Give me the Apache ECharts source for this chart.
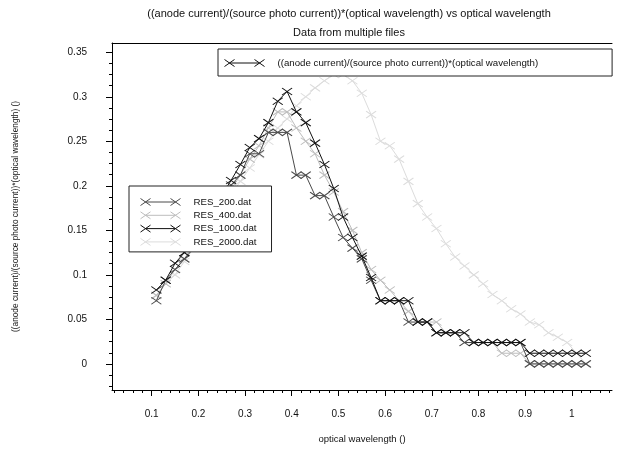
<!DOCTYPE html>
<html><head><meta charset="utf-8">
<script src="https://cdn.jsdelivr.net/npm/echarts@6/dist/echarts.min.js"></script>
<style>html,body{margin:0;padding:0;background:#fff}#c{width:626px;height:449px}</style>
</head><body><div id="c"></div>
<script>
// ---- data ----
const wavelengths = [0.11,0.13,0.15,0.17,0.19,0.21,0.23,0.25,0.27,0.29,0.31,0.33,0.35,0.37,0.39,0.41,0.43,0.45,0.47,0.49,0.51,0.53,0.55,0.57,0.59,0.61,0.63,0.65,0.67,0.69,0.71,0.73,0.75,0.77,0.79,0.81,0.83,0.85,0.87,0.89,0.91,0.93,0.95,0.97,0.99,1.01,1.03];
const res200 = [0.071,0.094,0.106,0.118,0.130,0.153,0.165,0.177,0.201,0.212,0.236,0.236,0.260,0.260,0.260,0.212,0.212,0.189,0.189,0.165,0.142,0.130,0.118,0.094,0.071,0.071,0.071,0.047,0.047,0.047,0.035,0.035,0.035,0.024,0.024,0.024,0.024,0.024,0.024,0.024,0,0,0,0,0,0,0];
const res400 = [0.077,0.090,0.106,0.118,0.135,0.148,0.160,0.177,0.196,0.212,0.230,0.245,0.265,0.283,0.283,0.265,0.250,0.236,0.212,0.193,0.171,0.150,0.125,0.106,0.094,0.083,0.071,0.059,0.047,0.047,0.047,0.035,0.035,0.024,0.024,0.024,0.024,0.012,0.012,0.012,0,0,0,0,0,0,0];
const res1000 = [0.083,0.094,0.113,0.125,0.142,0.153,0.170,0.189,0.206,0.224,0.243,0.253,0.271,0.295,0.306,0.283,0.271,0.248,0.224,0.197,0.165,0.142,0.121,0.097,0.071,0.071,0.071,0.071,0.047,0.047,0.035,0.035,0.035,0.035,0.024,0.024,0.024,0.024,0.024,0.024,0.012,0.012,0.012,0.012,0.012,0.012,0.012];
const res2000 = [0.077,0.090,0.100,0.115,0.130,0.145,0.160,0.175,0.190,0.205,0.220,0.235,0.250,0.265,0.275,0.290,0.300,0.310,0.318,0.325,0.325,0.318,0.304,0.280,0.250,0.245,0.230,0.205,0.180,0.165,0.152,0.135,0.120,0.110,0.100,0.090,0.078,0.071,0.062,0.056,0.047,0.044,0.035,0.030,0.024,0.012,0];
const seriesNames = ['RES_200.dat','RES_400.dat','RES_1000.dat','RES_2000.dat'];
const quantityName = '((anode current)/(source photo current))*(optical wavelength)';
const xMajorTicks = [0.1,0.2,0.3,0.4,0.5,0.6,0.7,0.8,0.9,1];
const xMinorTicks = [0.02,0.04,0.06,0.08,0.12,0.14,0.16,0.18,0.22,0.24,0.26,0.28,0.32,0.34,0.36,0.38,0.42,0.44,0.46,0.48,0.52,0.54,0.56,0.58,0.62,0.64,0.66,0.68,0.72,0.74,0.76,0.78,0.82,0.84,0.86,0.88,0.92,0.94,0.96,0.98,1.02,1.04,1.06,1.08];
const yMajorTicks = [0,0.05,0.1,0.15,0.2,0.25,0.3,0.35];
const yMinorTicks = [-0.025,-0.0125,0.0125,0.025,0.0375,0.0625,0.075,0.0875,0.1125,0.125,0.1375,0.1625,0.175,0.1875,0.2125,0.225,0.2375,0.2625,0.275,0.2875,0.3125,0.325,0.3375];

// ---- chart ----
const FONT = '"Liberation Sans", Arial, sans-serif';
const X_SYMBOL = 'path://M0,0L10,7M0,7L10,0';
const LEGEND_ICON = 'path://M0,0L10,7M0,7L10,0M5,3.5L35,3.5M30,0L40,7M30,7L40,0';
const XMIN = 0.015, XMAX = 1.086, YMIN = -0.0293, YMAX = 0.3604;
const colors = {'RES_200.dat':'#4a4a4a','RES_400.dat':'#bdbdbd','RES_1000.dat':'#111111','RES_2000.dat':'#dcdcdc'};

function mk(name, vals, z) {
  const c = colors[name];
  return {
    name, type:'line', xAxisIndex:0, yAxisIndex:0, z,
    data: wavelengths.map((x,i)=>[x, vals[i]]),
    symbol: X_SYMBOL, symbolSize:[10,7], showSymbol:true, showAllSymbol:true,
    lineStyle:{color:c, width:1}, itemStyle:{color:c, borderColor:c, borderWidth:1},
    emphasis:{disabled:true}, animation:false
  };
}

const chart = echarts.init(document.getElementById('c'));
const legendCommon = {
  orient:'vertical', itemWidth:40, itemHeight:7, icon:LEGEND_ICON, z:20,
  itemStyle:{borderWidth:1, borderColor:'inherit'},
  backgroundColor:'#fff', borderColor:'#222', borderWidth:1, selectedMode:false,
  textStyle:{fontSize:9.7, fontFamily:FONT, color:'#111', padding:[0,0,0,8], lineHeight:10}
};
chart.setOption({
  animation:false,
  backgroundColor:'#fff',
  title:[
    {text:quantityName + ' vs optical wavelength', left:349, top:8, textAlign:'center', padding:0,
     textStyle:{fontSize:11, fontWeight:'normal', fontFamily:FONT, color:'#111', lineHeight:12}},
    {text:'Data from multiple files', left:349, top:27, textAlign:'center', padding:0,
     textStyle:{fontSize:11, fontWeight:'normal', fontFamily:FONT, color:'#111', lineHeight:12}}
  ],
  legend:[
    Object.assign({}, legendCommon, {data:seriesNames, left:129, top:186, padding:[11,15,5,11], itemGap:3.3}),
    Object.assign({}, legendCommon, {data:[quantityName], left:218, top:49, padding:[9,74,8,6], itemGap:0})
  ],
  grid:{left:112, right:14, top:43, bottom:56, containLabel:false},
  xAxis:[
    {type:'value', position:'bottom', min:XMIN, max:XMAX,
     name:'optical wavelength ()', nameLocation:'middle', nameGap:44,
     nameTextStyle:{fontSize:9.5, fontFamily:FONT, color:'#111'},
     axisLine:{show:true, onZero:false, lineStyle:{color:'#000', width:1}},
     axisTick:{show:true, inside:false, length:6, customValues:xMajorTicks, lineStyle:{color:'#000'}},
     axisLabel:{show:true, margin:19, customValues:xMajorTicks, fontSize:10, fontFamily:FONT, color:'#111'},
     splitLine:{show:false}},
    {type:'value', position:'bottom', min:XMIN, max:XMAX,
     axisLine:{show:false, onZero:false},
     axisTick:{show:true, inside:false, length:3, customValues:xMinorTicks, lineStyle:{color:'#000'}},
     axisLabel:{show:false}, splitLine:{show:false}},
    {type:'value', position:'top', min:XMIN, max:XMAX,
     axisLine:{show:true, onZero:false, lineStyle:{color:'#000', width:1}},
     axisTick:{show:false}, axisLabel:{show:false}, splitLine:{show:false}}
  ],
  yAxis:[
    {type:'value', position:'left', min:YMIN, max:YMAX,
     name:quantityName + ' ()', nameLocation:'middle', nameGap:92, nameRotate:90,
     nameTextStyle:{fontSize:8.3, fontFamily:FONT, color:'#111'},
     axisLine:{show:true, onZero:false, lineStyle:{color:'#000', width:1}},
     axisTick:{show:true, inside:false, length:6, customValues:yMajorTicks, lineStyle:{color:'#000'}},
     axisLabel:{show:true, margin:25, customValues:yMajorTicks, fontSize:10, fontFamily:FONT, color:'#111'},
     splitLine:{show:false}},
    {type:'value', position:'left', min:YMIN, max:YMAX,
     axisLine:{show:false, onZero:false},
     axisTick:{show:true, inside:false, length:3, customValues:yMinorTicks, lineStyle:{color:'#000'}},
     axisLabel:{show:false}, splitLine:{show:false}}
  ],
  series:[
    mk('RES_2000.dat', res2000, 2),
    mk('RES_400.dat', res400, 3),
    mk('RES_200.dat', res200, 4),
    mk('RES_1000.dat', res1000, 5),
    {name:quantityName, type:'line', data:[], symbol:X_SYMBOL,
     lineStyle:{color:'#111', width:1}, itemStyle:{color:'#111', borderColor:'#111', borderWidth:1}}
  ]
});
</script></body></html>
